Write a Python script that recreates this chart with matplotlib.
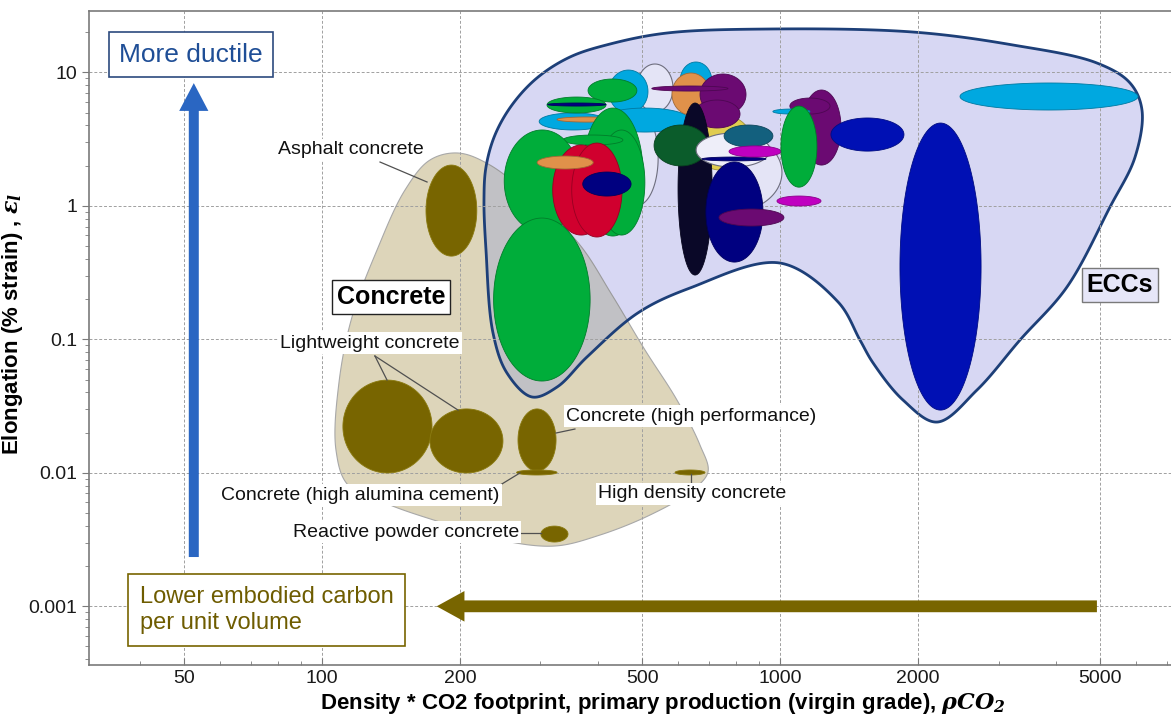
import numpy as np
import matplotlib
matplotlib.use("Agg")
import matplotlib.pyplot as plt
from matplotlib.patches import Polygon
from matplotlib.colors import to_rgb
from matplotlib.ticker import FixedLocator, FuncFormatter, LogLocator, NullFormatter

plt.rcParams["font.family"] = ["Liberation Sans", "DejaVu Sans"]
plt.rcParams["mathtext.fontset"] = "dejavuserif"

# ---------------------------------------------------------------------------
# Data: x = density * CO2 footprint, y = elongation (% strain)
# Each bubble is given by its property range (low/high on each axis)
# ---------------------------------------------------------------------------
concrete_names = ["Asphalt concrete", "Lightweight concrete A", "Lightweight concrete B",
                  "Concrete (high performance)", "Concrete (high alumina cement)",
                  "High density concrete", "Reactive powder concrete"]
concrete_x_lo = [168.7, 111.1, 172.1, 267.9, 266.0, 590.0, 300.6]
concrete_x_hi = [217.8, 173.9, 248.4, 324.4, 326.0, 686.0, 344.5]
concrete_y_lo = [0.42, 0.00997, 0.00997, 0.0103, 0.00963, 0.00963, 0.00303]
concrete_y_hi = [2.02, 0.0495, 0.0301, 0.0301, 0.0105, 0.0105, 0.00399]

ecc_x_lo = [487, 440, 605, 640, 423, 405, 605, 581, 669, 525, 649, 298, 381, 310, 311,
            326, 371, 401, 336, 250, 319, 351, 295, 371, 237, 599, 531, 656, 689, 676,
            755, 774, 736, 985, 1117, 1051, 965, 1005, 1292, 2472, 1828]
ecc_x_hi = [584, 542, 1010, 870, 515, 636, 710, 703, 843, 770, 818, 420, 487, 417, 417,
            441, 502, 507, 454, 366, 425, 452, 391, 473, 385, 711, 696, 951, 918, 932,
            965, 1005, 1020, 1229, 1359, 1286, 1163, 1204, 1865, 6049, 2748]
ecc_y_lo = [5.04, 1.01, 0.899, 1.85, 4.96, 3.57, 6.2, 4.79, 4.79, 7.24, 3.83, 3.70, 5.99,
            4.96, 5.59, 4.24, 0.594, 0.604, 2.854, 0.636, 0.604, 0.584, 1.887, 1.184, 0.0487,
            0.303, 1.99, 1.95, 0.379, 2.17, 2.76, 2.32, 0.706, 0.997, 2.02, 4.87, 4.87,
            1.38, 2.57, 5.22, 0.0295]
ecc_y_hi = [11.54, 5.22, 3.51, 4.8, 10.40, 5.40, 11.95, 9.88, 9.71, 7.90, 6.20, 4.96, 8.91,
            6.53, 5.89, 4.63, 5.40, 3.697, 3.391, 3.70, 2.854, 2.953, 2.361, 1.791, 0.810,
            5.89, 4.03, 3.51, 2.13, 2.32, 4.03, 2.81, 0.946, 1.184, 7.37, 6.42, 5.31,
            5.59, 4.55, 8.32, 4.17]
ecc_colors = ["#e4e4f6", "#e4e4f6", "#e4e4f6", "#e0cc50", "#00a8e0", "#00a8e0", "#00a8e0",
              "#e0914a", "#6b0a72", "#6b0a72", "#6b0a72", "#00a8e0", "#00ad3a", "#00ad3a",
              "#000080", "#e0914a", "#00ad3a", "#00ad3a", "#00ad3a", "#00ad3a", "#d0002e",
              "#d0002e", "#e0914a", "#000080", "#00ad3a", "#0a0828", "#0b5c2b", "#eeeef9",
              "#000080", "#000080", "#13607e", "#c000c0", "#6b0a72", "#c000c0", "#6b0a72",
              "#6b0a72", "#00a8e0", "#00ad3a", "#0010b4", "#00a8e0", "#0010b4"]

# Envelope of the concrete family
concrete_env_x = [198.2, 232.7, 299.2, 365.8, 429.8, 507.3, 595.7, 668.8, 696.2, 636.1,
                  520.3, 404.6, 322.7, 244.7, 181.0, 140.8, 114.0, 107.3, 108.9, 116.3,
                  131.9, 151.8, 172.1]
concrete_env_y = [2.486, 2.021, 1.014, 0.5086, 0.2147, 0.0832, 0.0351, 0.01615, 0.01014,
                  0.00718, 0.00483, 0.00342, 0.00283, 0.00314, 0.00428, 0.00574, 0.0081,
                  0.01482, 0.0471, 0.1469, 0.4667, 1.313, 2.203]

# Envelope of the ECC family
ecc_env_x = [287.4, 253.5, 236.3, 228.1, 225.8, 228.1, 238.6, 259.9, 294.7, 347.9, 425.4,
             566.6, 936.8, 1951, 3227, 4921, 5811, 6171, 5960, 5254, 4232, 3342, 2692,
             2202, 1856, 1597, 1495, 1340, 1000, 636, 490, 378.9, 326.0]
ecc_env_y = [0.0370, 0.0559, 0.1115, 0.4667, 1.105, 1.952, 3.391, 5.69, 9.07, 13.02, 16.29,
             19.70, 21.10, 20.04, 16.02, 11.74, 8.32, 5.22, 2.32, 0.979, 0.2465, 0.0988,
             0.0417, 0.0240, 0.0351, 0.0665, 0.0988, 0.190, 0.3728, 0.2423,
             0.1580, 0.0737, 0.0439]

x_ticks = [50, 100, 200, 500, 1000, 2000, 5000]
y_ticks = [0.001, 0.01, 0.1, 1, 10]

OLIVE = "#786500"
LAV = "#d7d7f3"
TAN = "#ddd5ba"
GRAY_OVERLAP = "#c1c1c5"


def log_ellipse(xlo, xhi, ylo, yhi, n=160):
    t = np.linspace(0, 2 * np.pi, n)
    lx0, lx1 = np.log10(xlo), np.log10(xhi)
    ly0, ly1 = np.log10(ylo), np.log10(yhi)
    cx, rx = (lx0 + lx1) / 2, (lx1 - lx0) / 2
    cy, ry = (ly0 + ly1) / 2, (ly1 - ly0) / 2
    return 10 ** (cx + rx * np.cos(t)), 10 ** (cy + ry * np.sin(t))


def smooth_closed(ax, xs, ys, n=30):
    """Closed centripetal Catmull-Rom curve through the anchors (built on screen)."""
    P = ax.transData.transform(np.column_stack([xs, ys]))
    m = len(P)
    out = []
    for i in range(m):
        p0, p1, p2, p3 = P[i - 1], P[i], P[(i + 1) % m], P[(i + 2) % m]
        t0 = 0.0
        t1 = t0 + np.linalg.norm(p1 - p0) ** 0.5
        t2 = t1 + np.linalg.norm(p2 - p1) ** 0.5
        t3 = t2 + np.linalg.norm(p3 - p2) ** 0.5
        for t in np.linspace(t1, t2, n, endpoint=False):
            a1 = (t1 - t) / (t1 - t0) * p0 + (t - t0) / (t1 - t0) * p1
            a2 = (t2 - t) / (t2 - t1) * p1 + (t - t1) / (t2 - t1) * p2
            a3 = (t3 - t) / (t3 - t2) * p2 + (t - t2) / (t3 - t2) * p3
            b1 = (t2 - t) / (t2 - t0) * a1 + (t - t0) / (t2 - t0) * a2
            b2 = (t3 - t) / (t3 - t1) * a2 + (t - t1) / (t3 - t1) * a3
            out.append((t2 - t) / (t2 - t1) * b1 + (t - t1) / (t2 - t1) * b2)
    return ax.transData.inverted().transform(np.array(out))


def darker(c, f=0.72):
    r, g, b = to_rgb(c)
    return (r * f, g * f, b * f)


fig = plt.figure(figsize=(11.71, 7.16), dpi=100)
ax = fig.add_axes([89 / 1171, 51 / 716, 1149 / 1171, 654 / 716])
ax.set_xscale("log")
ax.set_yscale("log")
ax.set_xlim(31, 10000)
ax.set_ylim(3.634e-4, 28.8)

# Grid sits above the envelopes but below the bubbles
ax.set_axisbelow(True)
ax.grid(True, which="major", color="#a0a0a0", lw=0.7, ls=(0, (3, 2)))

# Family envelopes
conc_pts = smooth_closed(ax, concrete_env_x, concrete_env_y)
ecc_pts = smooth_closed(ax, ecc_env_x, ecc_env_y)
ax.add_patch(Polygon(conc_pts, closed=True, fc=TAN, ec="#a8a8a8", lw=0.8, zorder=0.2))
ecc_fill = Polygon(ecc_pts, closed=True, fc=LAV, ec="none", zorder=0.3)
ax.add_patch(ecc_fill)
overlap = Polygon(conc_pts, closed=True, fc=GRAY_OVERLAP, ec="#9a9a9a", lw=0.8, zorder=0.35)
ax.add_patch(overlap)
overlap.set_clip_path(ecc_fill)
ax.add_patch(Polygon(ecc_pts, closed=True, fc="none", ec="#1d3f78", lw=2.0, zorder=0.45))

# Concrete bubbles
for xl, xh, yl, yh in zip(concrete_x_lo, concrete_x_hi, concrete_y_lo, concrete_y_hi):
    ex, ey = log_ellipse(xl, xh, yl, yh)
    ax.fill(ex, ey, fc=OLIVE, ec="#8a7a10", lw=0.6, zorder=1)

# ECC bubbles, back to front
for i, (xl, xh, yl, yh, c) in enumerate(zip(ecc_x_lo, ecc_x_hi, ecc_y_lo, ecc_y_hi, ecc_colors)):
    ex, ey = log_ellipse(xl, xh, yl, yh)
    if c in ("#e4e4f6", "#eeeef9"):
        ax.fill(ex, ey, fc=c, ec="#6e6e7e", lw=0.8, zorder=1.1 + i * 0.01)
    else:
        ax.fill(ex, ey, fc=c, ec=darker(c), lw=0.6, zorder=1.1 + i * 0.01)

# Bubble labels and leader lines
lab_kw = dict(fontsize=14, color="#111111", zorder=6,
              bbox=dict(boxstyle="square,pad=0.12", fc="white", ec="none"))
lead_kw = dict(color="#505050", lw=0.9, zorder=5.5)

ax.text(115.7, 2.62, "Asphalt concrete", ha="center", va="center", **lab_kw)
ax.plot([133.9, 169.6], [2.128, 1.508], **lead_kw)

ax.text(127.3, 0.0938, "Lightweight concrete", ha="center", va="center", **lab_kw)
ax.plot([130.5, 138.7], [0.075, 0.0495], **lead_kw)
ax.plot([130.5, 198.2], [0.075, 0.0295], **lead_kw)

ax.text(341.0, 0.0266, "Concrete (high performance)", ha="left", va="center", **lab_kw)
ax.plot([324.4, 356.7], [0.01987, 0.02128], **lead_kw)

ax.text(121.1, 0.00682, "Concrete (high alumina cement)", ha="center", va="center", **lab_kw)
ax.plot([241.0, 270.5], [0.00783, 0.00997], **lead_kw)

ax.text(642.6, 0.00694, "High density concrete", ha="center", va="center", **lab_kw)
ax.plot([639.4, 639.4], [0.0098, 0.00824], **lead_kw)

ax.text(152.6, 0.0036, "Reactive powder concrete", ha="center", va="center", **lab_kw)
ax.plot([270.5, 300.6], [0.00354, 0.00354], **lead_kw)

# Family labels
ax.text(141.5, 0.2074, "Concrete", ha="center", va="center", fontsize=18, weight="bold",
        zorder=6, bbox=dict(boxstyle="square,pad=0.2", fc="white", ec="#222222", lw=1.0))
ax.text(5526, 0.2551, "ECCs", ha="center", va="center", fontsize=18, weight="bold",
        zorder=6, bbox=dict(boxstyle="square,pad=0.2", fc="#e6e6f8", ec="#7a7a7a", lw=1.0))

# Direction arrows with their captions
ax.annotate("", xy=(52.5, 8.3), xytext=(52.5, 0.00234), zorder=7,
            arrowprops=dict(arrowstyle="simple,head_length=2.0,head_width=2.1,tail_width=0.72",
                            mutation_scale=10, fc="#2a66c2", ec="none", shrinkA=0, shrinkB=0))
ax.text(51.8, 13.5, "More ductile", ha="center", va="center", fontsize=19, color="#1f4e96",
        zorder=7, bbox=dict(boxstyle="square,pad=0.4", fc="white", ec="#2c4a7e", lw=1.2))

ax.annotate("", xy=(178, 0.001), xytext=(4920, 0.001), zorder=7,
            arrowprops=dict(arrowstyle="simple,head_length=2.0,head_width=2.2,tail_width=0.85",
                            mutation_scale=10, fc=OLIVE, ec="none", shrinkA=0, shrinkB=0))
ax.text(40.0, 0.00094, "Lower embodied carbon\nper unit volume", ha="left", va="center",
        fontsize=17, color="#6e5c00", linespacing=1.25, zorder=7,
        bbox=dict(boxstyle="square,pad=0.5", fc="white", ec=OLIVE, lw=1.2))

# Axes styling
for s in ax.spines.values():
    s.set_color("#7a7a7a")
    s.set_linewidth(1.2)
ax.xaxis.set_major_locator(FixedLocator(x_ticks))
ax.yaxis.set_major_locator(FixedLocator(y_ticks))
fmt = FuncFormatter(lambda v, p: "%g" % v)
ax.xaxis.set_major_formatter(fmt)
ax.yaxis.set_major_formatter(fmt)
ax.xaxis.set_minor_locator(LogLocator(base=10, subs=np.arange(2, 10)))
ax.yaxis.set_minor_locator(LogLocator(base=10, subs=np.arange(2, 10)))
ax.xaxis.set_minor_formatter(NullFormatter())
ax.yaxis.set_minor_formatter(NullFormatter())
ax.tick_params(which="major", length=5, color="#7a7a7a", labelsize=14, labelcolor="#1a1a1a")
ax.tick_params(which="minor", length=3, color="#7a7a7a")
ax.tick_params(axis="x", which="both", direction="in")

ax.set_xlabel(r"Density * CO2 footprint, primary production (virgin grade), $\mathbfit{\rho CO_2}$",
              fontsize=16, weight="bold", labelpad=3)
ax.set_ylabel(r"Elongation (% strain) , $\mathbfit{\varepsilon_l}$", fontsize=16,
              weight="bold")
ax.yaxis.set_label_coords(-0.056, 0.521)

fig.savefig("out.png", dpi=100)
